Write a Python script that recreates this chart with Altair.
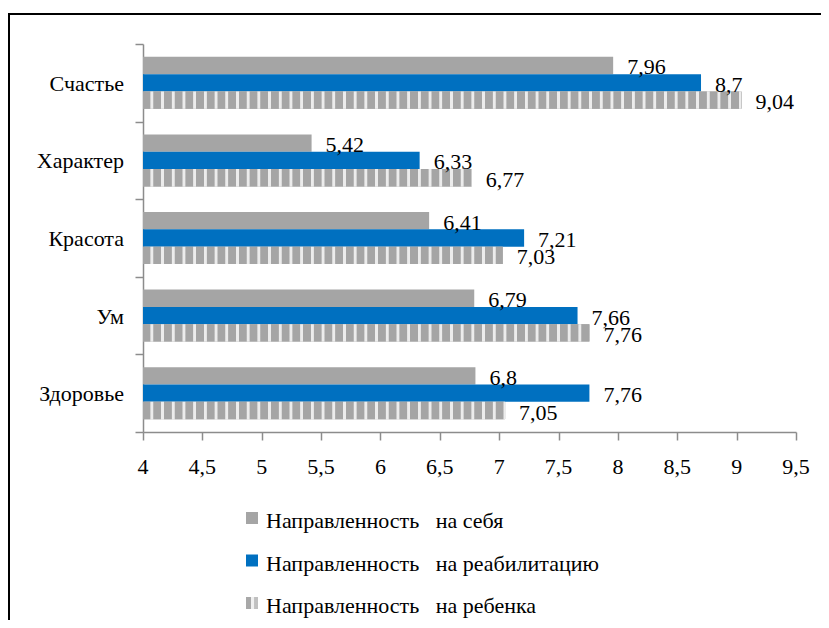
import altair as alt
import pandas as pd

categories = ["Счастье", "Характер", "Красота", "Ум", "Здоровье"]
series = [
    "Направленность на себя",
    "Направленность на реабилитацию",
    "Направленность на ребенка",
]
self_vals = [7.96, 5.42, 6.41, 6.79, 6.8]
rehab_vals = [8.7, 6.33, 7.21, 7.66, 7.76]
child_vals = [9.04, 6.77, 7.03, 7.76, 7.05]
x_ticks = [4, 4.5, 5, 5.5, 6, 6.5, 7, 7.5, 8, 8.5, 9, 9.5]

GRAY = "#a5a5a5"
BLUE = "#0070c0"
LIGHT = "#ececec"
colors = [GRAY, BLUE, GRAY]
FONT = "Liberation Serif"
AXIS_GRAY = "#8c8c8c"

W, H = 653, 388
XMIN, XMAX = 4, 9.5

rows = []
for s, vals in zip(series, [self_vals, rehab_vals, child_vals]):
    for c, v in zip(categories, vals):
        rows.append({"category": c, "series": s, "value": v})
df = pd.DataFrame(rows)

y_enc = alt.Y(
    "category:N",
    sort=categories,
    scale=alt.Scale(domain=categories, paddingInner=0, paddingOuter=0),
    axis=alt.Axis(
        title=None, tickBand="extent", labels=False, tickSize=8,
        tickColor=AXIS_GRAY, domainColor=AXIS_GRAY, domainWidth=1.5, tickWidth=1.5,
    ),
)
yoff_enc = alt.YOffset(
    "series:N",
    sort=series,
    scale=alt.Scale(domain=series, paddingInner=0, paddingOuter=0.74),
)
x_enc = alt.X(
    "value:Q",
    scale=alt.Scale(domain=[XMIN, XMAX], zero=False, nice=False),
    axis=alt.Axis(
        title=None, values=x_ticks, grid=False, labels=False, tickSize=8,
        tickColor=AXIS_GRAY, domainColor=AXIS_GRAY, domainWidth=1.5, tickWidth=1.5,
    ),
)

base = alt.Chart(df)

bars = base.mark_bar(stroke=None).encode(
    y=y_enc,
    yOffset=yoff_enc,
    x=x_enc,
    x2=alt.datum(XMIN),
    color=alt.Color(
        "series:N", sort=series,
        scale=alt.Scale(domain=series, range=colors), legend=None,
    ),
)


def stripe_gradient(length, period=10.7, gray_w=7.0):
    stops = []
    k = 0
    while k * period < length:
        a = k * period / length
        g = min(1.0, (k * period + gray_w) / length)
        g2 = min(1.0, (k * period + gray_w + 0.8) / length)
        e1 = min(1.0, ((k + 1) * period - 0.8) / length)
        e = min(1.0, (k + 1) * period / length)
        stops += [(a, GRAY), (g, GRAY), (g2, LIGHT), (e1, LIGHT), (e, GRAY)]
        k += 1
    return alt.Gradient(
        gradient="linear", x1=0, x2=1, y1=0, y2=0,
        stops=[alt.GradientStop(offset=o, color=c) for o, c in stops],
    )


striped_layers = []
for c, v in zip(categories, child_vals):
    length = (v - XMIN) / (XMAX - XMIN) * W
    layer = (
        base.transform_filter(
            (alt.datum.category == c) & (alt.datum.series == series[2])
        )
        .mark_bar(color=stripe_gradient(length), stroke=None)
        .encode(y=y_enc, yOffset=yoff_enc, x=x_enc, x2=alt.datum(XMIN))
    )
    striped_layers.append(layer)

labels = (
    base.transform_calculate(label="replace(toString(datum.value), '.', ',')")
    .mark_text(align="left", baseline="middle", dx=14, dy=2,
               font=FONT, fontSize=22, color="#000000")
    .encode(y=y_enc, yOffset=yoff_enc, x=x_enc, text="label:N")
)

# axis tick labels drawn as text through the shared scales
xlab_df = pd.DataFrame({"value": x_ticks})
x_labels = (
    alt.Chart(xlab_df)
    .transform_calculate(label="replace(toString(datum.value), '.', ',')")
    .mark_text(align="center", baseline="middle", font=FONT, fontSize=22, color="#000000")
    .encode(x=x_enc, y=alt.value(H + 35), text="label:N")
)
ylab_df = pd.DataFrame({"category": categories})
y_labels = (
    alt.Chart(ylab_df)
    .mark_text(align="right", baseline="middle", dy=1, font=FONT, fontSize=22, color="#000000")
    .encode(y=y_enc, x=alt.value(-19), text="category:N")
)

# legend
leg_layers = []
LEG_X, LEG_Y0, LEG_STEP = 103, 474, 42.5
sym_fills = [GRAY, BLUE, alt.Gradient(
    gradient="linear", x1=0, x2=1, y1=0, y2=0,
    stops=[alt.GradientStop(offset=0, color="#a8a8a8"),
           alt.GradientStop(offset=0.42, color="#a8a8a8"),
           alt.GradientStop(offset=0.45, color="#f0f0f0"),
           alt.GradientStop(offset=0.68, color="#f0f0f0"),
           alt.GradientStop(offset=0.71, color="#c0c0c0"),
           alt.GradientStop(offset=1, color="#c0c0c0")])]
one = pd.DataFrame({"k": [0]})
for i, s in enumerate(series):
    yc = LEG_Y0 + i * LEG_STEP
    leg_layers.append(
        alt.Chart(one).mark_rect(color=sym_fills[i], stroke=None).encode(
            x=alt.value(LEG_X), x2=alt.value(LEG_X + 12),
            y=alt.value(yc - 6), y2=alt.value(yc + 6),
        )
    )
    words = s.split(" ", 1)
    leg_layers.append(
        alt.Chart(one).mark_text(
            text=words[0] + "\u2002 " + words[1], align="left", baseline="middle",
            font=FONT, fontSize=22, color="#000000",
        ).encode(x=alt.value(LEG_X + 20), y=alt.value(yc + 3))
    )

frame_left = alt.Chart(one).mark_rule(color="#000000", strokeWidth=2).encode(
    x=alt.value(-134), y=alt.value(-30), y2=alt.value(610)
)
frame_top = alt.Chart(one).mark_rule(color="#000000", strokeWidth=2).encode(
    x=alt.value(-135), x2=alt.value(700), y=alt.value(-30)
)

chart = (
    alt.layer(frame_left, frame_top, bars, *striped_layers, labels,
              x_labels, y_labels, *leg_layers)
    .properties(
        width=W,
        height=H,
        background="#ffffff",
        autosize=alt.AutoSizeParams(type="none"),
        padding={"left": 135, "top": 36, "right": 25, "bottom": 188},
    )
    .configure_view(stroke=None)
)

chart.save("out.html", embed_options={"renderer": "svg", "actions": False})
